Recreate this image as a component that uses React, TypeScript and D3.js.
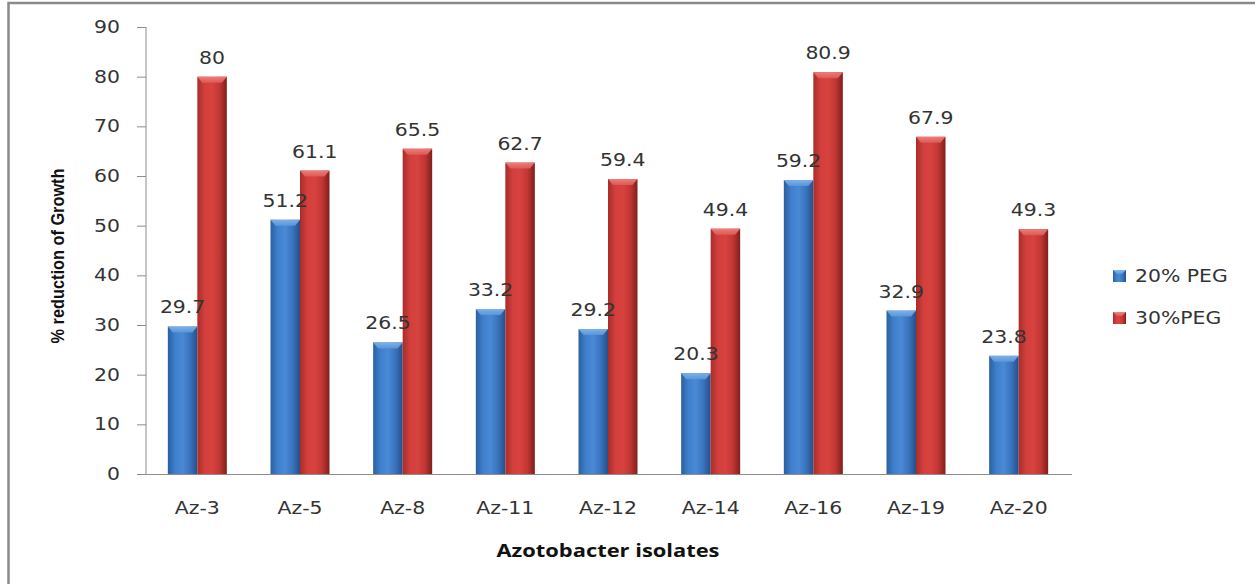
import * as d3 from 'd3';

// chart data
const isolates = ['Az-3', 'Az-5', 'Az-8', 'Az-11', 'Az-12', 'Az-14', 'Az-16', 'Az-19', 'Az-20'];
const peg20 = [29.7, 51.2, 26.5, 33.2, 29.2, 20.3, 59.2, 32.9, 23.8];
const peg30 = [80, 61.1, 65.5, 62.7, 59.4, 49.4, 80.9, 67.9, 49.3];
const seriesNames = ['20% PEG', '30%PEG'];
const yTicks = [0, 10, 20, 30, 40, 50, 60, 70, 80, 90];

const W = 1255;
const H = 584;
const font = "'DejaVu Sans', Verdana, sans-serif";
const textColor = '#333';

const palette: Record<string, { grad: string[]; cap: string[] }> = {
	'20% PEG': {
		grad: ['#2b5f9f', '#3f80cc', '#4989d6', '#3a73bd', '#24508a'],
		cap: ['#5c98dc', '#86b6ea'],
	},
	'30%PEG': {
		grad: ['#a92c2a', '#d23f3c', '#d8423f', '#c13734', '#7f1f1d'],
		cap: ['#e05b58', '#f08582'],
	},
};

export default function App() {
	const x = d3.scaleBand<string>().domain(isolates).range([146, 1070]).padding(0);
	const inner = d3.scaleBand<string>().domain(seriesNames).range([0, x.bandwidth()])
		.paddingInner(0).paddingOuter(0.74);
	const y = d3.scaleLinear().domain([0, 90]).range([474, 27]);

	const series = [
		{ name: seriesNames[0], values: peg20 },
		{ name: seriesNames[1], values: peg30 },
	];
	const bw = inner.bandwidth();
	const barX = (name: string, i: number) => (x(isolates[i]) as number) + (inner(name) as number);

	return (
		<svg width={W} height={H} style={{ position: 'absolute', left: 0, top: 0, background: '#fff' }}>
			<defs>
				{series.map((s, si) => (
					<g key={s.name}>
						<linearGradient id={`bar${si}`} x1="0" x2="1" y1="0" y2="0">
							{palette[s.name].grad.map((c, i, arr) => (
								<stop key={i} offset={`${(i / (arr.length - 1)) * 100}%`} stopColor={c} />
							))}
						</linearGradient>
						<linearGradient id={`cap${si}`} x1="0" x2="0" y1="0" y2="1">
							<stop offset="0%" stopColor={palette[s.name].cap[1]} />
							<stop offset="100%" stopColor={palette[s.name].cap[0]} />
						</linearGradient>
					</g>
				))}
			</defs>

			{/* outer frame */}
			<rect x={8.5} y={3} width={1300} height={700} fill="none" stroke="#8a8a8a" strokeWidth={2.5} />

			{/* y axis */}
			<line x1={146} x2={146} y1={y(90)} y2={y(0)} stroke="#8c8c8c" />
			{yTicks.map(t => (
				<g key={t}>
					<line x1={137} x2={146} y1={y(t) + 0.5} y2={y(t) + 0.5} stroke="#8c8c8c" />
					<text transform={`translate(120,${y(t)}) scale(1.2,1)`} dy="0.36em" textAnchor="end"
						fontFamily={font} fontSize={17} fill={textColor}>{t}</text>
				</g>
			))}

			{/* bars */}
			{series.map((s, si) => (
				<g key={s.name}>
					{s.values.map((v, i) => {
						const bx = barX(s.name, i);
						const by = y(v);
						const bh = y(0) - by;
						const capH = 6;
						const inset = 5;
						return (
							<g key={i}>
								<rect x={bx} y={by} width={bw} height={bh} fill={`url(#bar${si})`} />
								<polygon
									points={`${bx},${by} ${bx + bw},${by} ${bx + bw - inset},${by + capH} ${bx + inset},${by + capH}`}
									fill={`url(#cap${si})`} opacity={0.9} />
							</g>
						);
					})}
				</g>
			))}

			{/* value labels, drawn over all bars */}
			{series.map(s => (
				<g key={s.name}>
					{s.values.map((v, i) => (
						<text key={i} transform={`translate(${barX(s.name, i) + bw / 2},${y(v) - 13}) scale(1.2,1)`}
							textAnchor="middle" fontFamily={font} fontSize={17} fill={textColor}>{v}</text>
					))}
				</g>
			))}

			{/* x axis */}
			<line x1={137} x2={1072} y1={y(0) + 0.5} y2={y(0) + 0.5} stroke="#8c8c8c" />
			{isolates.map(c => (
				<text key={c} transform={`translate(${(x(c) as number) + x.bandwidth() / 2},514) scale(1.2,1)`}
					textAnchor="middle" fontFamily={font} fontSize={17} fill={textColor}>{c}</text>
			))}

			{/* axis titles */}
			<text x={608} y={557} textAnchor="middle" fontFamily="'Open Sans', sans-serif" fontWeight="bold"
				fontSize={17} fill="#111" textLength={223} lengthAdjust="spacingAndGlyphs">Azotobacter isolates</text>
			<text transform="translate(64,256) rotate(-90)" textAnchor="middle"
				fontFamily="'Liberation Sans Narrow', 'Liberation Sans', sans-serif" fontWeight="bold"
				fontSize={19} fill="#111" textLength={175} lengthAdjust="spacingAndGlyphs">% reduction of Growth</text>

			{/* legend */}
			{series.map((s, si) => (
				<g key={s.name} transform={`translate(1113,${270 + si * 42})`}>
					<rect x={0} y={0} width={13} height={12} fill={`url(#bar${si})`} />
					<polygon points="0,0 13,0 9,4 4,4" fill={`url(#cap${si})`} />
					<text transform="translate(22,12) scale(1.2,1)" fontFamily={font} fontSize={17} fill={textColor}>{s.name}</text>
				</g>
			))}
		</svg>
	);
}
